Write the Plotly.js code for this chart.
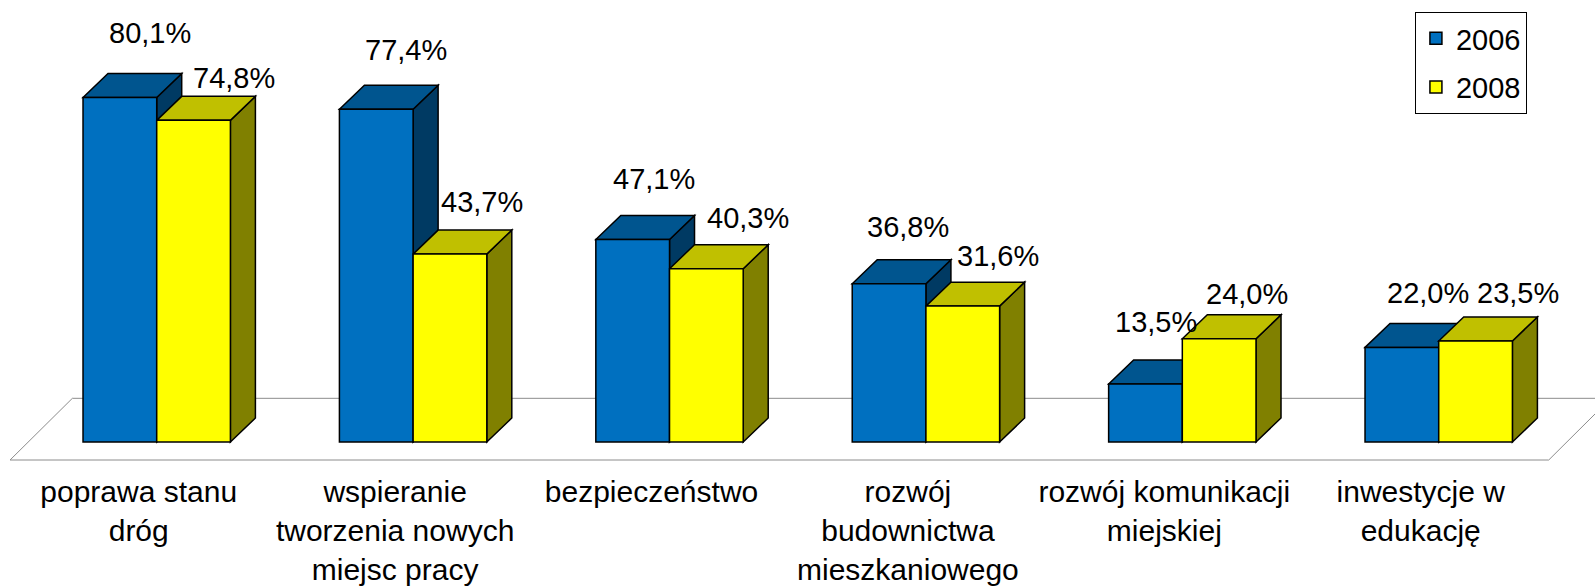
<!DOCTYPE html>
<html>
<head>
<meta charset="utf-8">
<script src="https://cdn.plot.ly/plotly-3.0.1.min.js"></script>
<style>
  html, body { margin: 0; padding: 0; background: #ffffff; }
  #chart { width: 1595px; height: 588px; }
</style>
</head>
<body>
<div id="chart"></div>
<script>
// ---- data ----
const categories = [
  "poprawa stanu<br>dróg",
  "wspieranie<br>tworzenia nowych<br>miejsc pracy",
  "bezpieczeństwo",
  "rozwój<br>budownictwa<br>mieszkaniowego",
  "rozwój komunikacji<br>miejskiej",
  "inwestycje w<br>edukację"
];
const seriesNames = ["2006", "2008"];
const values2006 = [80.1, 77.4, 47.1, 36.8, 13.5, 22.0];
const values2008 = [74.8, 43.7, 40.3, 31.6, 24.0, 23.5];

// ---- label placement (pixels, relative to group centre / bar top) ----
const labelDx2006 = [-7, -7, -16, -18, -26, -11];
const labelDy2006 = [65, 59, 60, 57, 62, 54];
const labelDx2008 = [77, 69, 78, 72, 65, 79];
const labelDy2008 = [42, 52, 51, 50, 45, 48];

// ---- styling ----
const FONT = '"Liberation Sans", Arial, Helvetica, sans-serif';
const FS = 29;
const colFront = ["#0070C0", "#FFFF00"];
const colTop   = ["#00558F", "#C0C000"];
const colSide  = ["#003A63", "#808000"];
const barW = 0.2874;          // bar width in category units
const depthX = 0.0975;        // 3D depth, x units
const depthY = 5.58;          // 3D depth, y units

const idx = categories.map((_, i) => i);
const fmt = v => v.toFixed(1).replace('.', ',') + '%';

const series = [values2006, values2008];
const offsets = [-barW, 0];

const traces = series.map((vals, s) => ({
  type: 'bar',
  name: seriesNames[s],
  x: idx,
  y: vals,
  width: barW,
  offset: offsets[s],
  marker: { color: colFront[s], line: { color: '#000000', width: 1.5 } },
  legendgroup: 'g' + s,
  hoverinfo: 'skip'
}));

// floor (decorative 3D plane)
const floor = {
  type: 'path', xref: 'x', yref: 'y', layer: 'below',
  path: 'M -0.572,-4.186 L -0.329,10.16 L 5.671,10.16 L 5.429,-4.186 Z',
  line: { color: '#8C8C8C', width: 1 }, fillcolor: 'rgba(0,0,0,0)'
};

const shapes = [floor];
series.forEach((vals, s) => {
  vals.forEach((v, i) => {
    const x0 = i + offsets[s];
    const x1 = x0 + barW;
    // side face
    shapes.push({
      type: 'path', xref: 'x', yref: 'y', layer: 'below',
      path: `M ${x1},0 L ${x1 + depthX},${depthY} L ${x1 + depthX},${v + depthY} L ${x1},${v} Z`,
      fillcolor: colSide[s], line: { color: '#000000', width: 1.5 }
    });
    // top face
    shapes.push({
      type: 'path', xref: 'x', yref: 'y', layer: 'below',
      path: `M ${x0},${v} L ${x0 + depthX},${v + depthY} L ${x1 + depthX},${v + depthY} L ${x1},${v} Z`,
      fillcolor: colTop[s], line: { color: '#000000', width: 1.5 }
    });
  });
});

const annotations = [];
values2006.forEach((v, i) => annotations.push({
  x: i, y: v, xref: 'x', yref: 'y', text: fmt(v), showarrow: false,
  xanchor: 'center', yanchor: 'middle', xshift: labelDx2006[i], yshift: labelDy2006[i],
  font: { family: FONT, size: FS, color: '#000000' }
}));
values2008.forEach((v, i) => annotations.push({
  x: i, y: v, xref: 'x', yref: 'y', text: fmt(v), showarrow: false,
  xanchor: 'center', yanchor: 'middle', xshift: labelDx2008[i], yshift: labelDy2008[i],
  font: { family: FONT, size: FS, color: '#000000' }
}));

const layout = {
  width: 1595, height: 588,
  margin: { l: 0, r: 0, t: 0, b: 118 },
  paper_bgcolor: '#FFFFFF',
  plot_bgcolor: 'rgba(0,0,0,0)',
  font: { family: FONT, size: FS, color: '#000000' },
  xaxis: {
    range: [-0.6112, 5.6095],
    tickvals: idx, ticktext: categories,
    showgrid: false, zeroline: false, showline: false, ticks: '',
    ticklabelstandoff: 1, ticklabelshift: -18,
    tickfont: { family: FONT, size: 30, color: '#000000' },
    fixedrange: true
  },
  yaxis: {
    range: [-6.51, 102.79],
    visible: false, showgrid: false, zeroline: false, fixedrange: true
  },
  showlegend: true,
  legend: {
    x: 0.8871, y: 0.9745, xanchor: 'left', yanchor: 'top',
    bordercolor: '#000000', borderwidth: 1, bgcolor: '#FFFFFF',
    font: { family: FONT, size: FS, color: '#000000' },
    tracegroupgap: 8
  },
  shapes: shapes,
  annotations: annotations
};

Plotly.newPlot('chart', traces, layout, { staticPlot: true, displayModeBar: false });
</script>
</body>
</html>
